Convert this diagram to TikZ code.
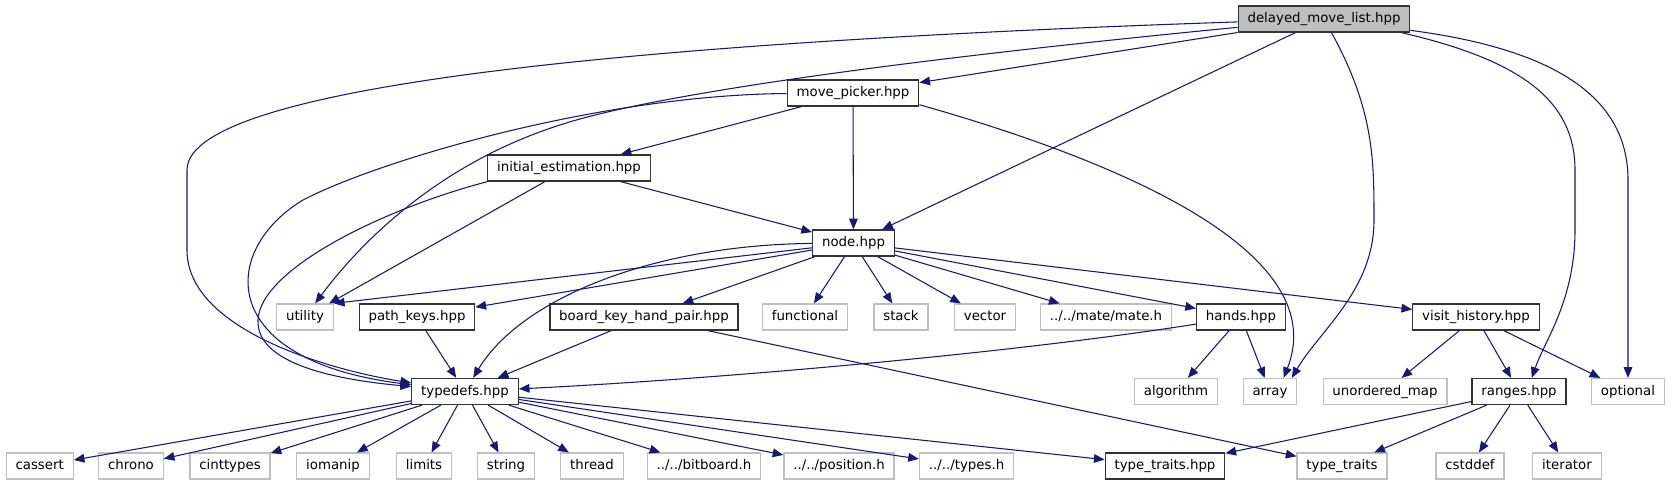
\documentclass[tikz,border=0pt]{standalone}
\usepackage{fontspec}
\setmainfont{DejaVu Sans}
\usetikzlibrary{arrows.meta}
\definecolor{edgeblue}{RGB}{25,25,112}
\definecolor{boxgray}{RGB}{191,191,191}
\tikzset{file node/.style={rectangle,draw=black!80,line width=1pt,
minimum height=19.5pt,inner xsep=7pt,inner ysep=0pt,text height=7.5pt,
text depth=2pt,font=\fontsize{10}{12}\selectfont},
sys node/.style={file node,draw=boxgray,line width=0.9pt},
root node/.style={file node,fill=boxgray},
dep/.style={draw=edgeblue,line width=0.8pt,-{Triangle[length=8pt,width=6.5pt]}}}

\begin{document}
\begin{tikzpicture}[x=0.75pt,y=-0.75pt]
    \useasboundingbox (0,0) rectangle (1671,485);

    \node[root node] (1) at (1324,19) {delayed\_move\_list.hpp};
    \node[file node] (2) at (853,93) {move\_picker.hpp};
    \node[file node] (3) at (569,168) {initial\_estimation.hpp};
    \node[file node] (4) at (853.5,243) {node.hpp};

    \node[sys node] (5) at (305,317) {utility};
    \node[file node] (6) at (417,317) {path\_keys.hpp};
    \node[file node] (7) at (644,317) {board\_key\_hand\_pair.hpp};
    \node[sys node] (8) at (805,317) {functional};
    \node[sys node] (9) at (901,317) {stack};
    \node[sys node] (10) at (985,317) {vector};
    \node[sys node] (11) at (1106,317) {../../mate/mate.h};
    \node[file node] (12) at (1241,317) {hands.hpp};
    \node[file node] (13) at (1476,317) {visit\_history.hpp};

    \node[file node] (14) at (465,391.5) {typedefs.hpp};
    \node[sys node] (15) at (1176,391.5) {algorithm};
    \node[sys node] (16) at (1270,391.5) {array};
    \node[sys node] (17) at (1385,391.5) {unordered\_map};
    \node[file node] (18) at (1519,391.5) {ranges.hpp};
    \node[sys node] (19) at (1628,391.5) {optional};

    \node[sys node] (20) at (39.7,466) {cassert};
    \node[sys node] (21) at (131,466) {chrono};
    \node[sys node] (22) at (230,466) {cinttypes};
    \node[sys node] (23) at (333,466) {iomanip};
    \node[sys node] (24) at (424,466) {limits};
    \node[sys node] (25) at (506,466) {string};
    \node[sys node] (26) at (592,466) {thread};
    \node[sys node] (27) at (704,466) {../../bitboard.h};
    \node[sys node] (28) at (839,466) {../../position.h};
    \node[sys node] (29) at (966.5,466) {../../types.h};
    \node[file node] (30) at (1165,466) {type\_traits.hpp};
    \node[sys node] (31) at (1342,466) {type\_traits};
    \node[sys node] (32) at (1470,466) {cstddef};
    \node[sys node] (33) at (1567,466) {iterator};

    % delayed_move_list.hpp
    \draw[dep] (1) .. controls (700,40) and (187,80) .. (187,170) -- (187,250)
        .. controls (187,330) and (330,370) .. (14);
    \draw[dep] (1) .. controls (900,60) and (650,95) .. (560,125)
        .. controls (450,160) and (370,230) .. (5);
    \draw[dep] (1) -- (2);
    \draw[dep] (1) -- (4);
    \draw[dep] (1) .. controls (1374,110) and (1374,160) .. (1374,220)
        .. controls (1374,290) and (1320,330) .. (16.32);
    \draw[dep] (1.-10) .. controls (1520,60) and (1575,100) .. (1575,170) -- (1575,230)
        .. controls (1575,300) and (1545,340) .. (18.47);
    \draw[dep] (1) .. controls (1560,50) and (1628,100) .. (1628,180) -- (19);

    % move_picker.hpp
    \draw[dep] (2) .. controls (600,95) and (380,160) .. (303,200)
        .. controls (220,250) and (215,360) .. (14);
    \draw[dep] (2) -- (3);
    \draw[dep] (2) -- (4);
    \draw[dep] (2.-10) .. controls (1150,170) and (1330,260) .. (16.45);

    % initial_estimation.hpp
    \draw[dep] (3.south west) .. controls (380,210) and (260,270) .. (258,320)
        .. controls (256,365) and (340,380) .. (14);
    \draw[dep] (3) -- (5);
    \draw[dep] (3) -- (4);

    % node.hpp
    \draw[dep] (4) .. controls (650,245) and (520,300) .. (14);
    \draw[dep] (4) -- (5.north east);
    \draw[dep] (4) -- (6);
    \draw[dep] (4) -- (7);
    \draw[dep] (4) -- (8);
    \draw[dep] (4) -- (9);
    \draw[dep] (4) -- (10);
    \draw[dep] (4) -- (11);
    \draw[dep] (4) -- (12);
    \draw[dep] (4) -- (13);

    \draw[dep] (6) -- (14);
    \draw[dep] (7) -- (14);
    \draw[dep] (7) -- (31);
    \draw[dep] (12) .. controls (1000,355) and (700,380) .. (14);
    \draw[dep] (12) -- (15);
    \draw[dep] (12) -- (16);
    \draw[dep] (13) -- (17);
    \draw[dep] (13) -- (18);
    \draw[dep] (13) -- (19);

    \draw[dep] (18) -- (30);
    \draw[dep] (18) -- (31);
    \draw[dep] (18) -- (32);
    \draw[dep] (18) -- (33);

    % typedefs.hpp
    \draw[dep] (14) -- (20);
    \draw[dep] (14) -- (21);
    \draw[dep] (14) -- (22);
    \draw[dep] (14) -- (23);
    \draw[dep] (14) -- (24);
    \draw[dep] (14) -- (25);
    \draw[dep] (14) -- (26);
    \draw[dep] (14) -- (27);
    \draw[dep] (14) -- (28);
    \draw[dep] (14) -- (29);
    \draw[dep] (14) -- (30);
\end{tikzpicture}
\end{document}
